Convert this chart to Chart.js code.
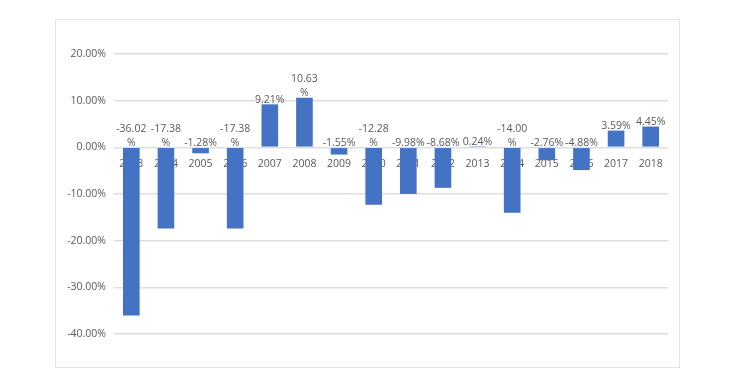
<!DOCTYPE html>
<html>
<head>
<meta charset="utf-8">
<script src="https://cdn.jsdelivr.net/npm/chart.js@4"></script>
<style>
    html, body { margin: 0; padding: 0; background: #fff; }
    body { width: 732px; height: 389px; position: relative; overflow: hidden; }
    #frame {
        position: absolute; left: 55px; top: 19px;
        width: 623px; height: 347px;
        border: 1px solid #e3e3e3;
    }
</style>
</head>
<body>
<div id="frame"><canvas id="chart"></canvas></div>
<script>
// Yearly returns, in percent
const years = ['2003', '2004', '2005', '2006', '2007', '2008', '2009', '2010',
               '2011', '2012', '2013', '2014', '2015', '2016', '2017', '2018'];
const returns = [-36.02, -17.38, -1.28, -17.38, 9.21, 10.63, -1.55, -12.28,
                 -9.98, -8.68, 0.24, -14.00, -2.76, -4.88, 3.59, 4.45];

const yMin = -40;
const yMax = 20;
const yStep = 10;

const textColor = '#595959';
const gridColor = '#dedede';
const barColor = '#4472c4';
const fontFamily = '"Open Sans", "DejaVu Sans", sans-serif';

// Value labels: above the bar for gains, above the zero line for losses.
// Long labels wrap before the % sign like the original.
const valueLabels = {
    id: 'valueLabels',
    afterDatasetsDraw(chart) {
        const ctx = chart.ctx;
        const meta = chart.getDatasetMeta(0);
        const zeroY = chart.scales.y.getPixelForValue(0);
        ctx.save();
        ctx.font = '10.5px ' + fontFamily;
        ctx.fillStyle = textColor;
        ctx.textAlign = 'center';
        ctx.textBaseline = 'bottom';
        meta.data.forEach((bar, i) => {
            const v = returns[i];
            const text = v.toFixed(2) + '%';
            const lines = Math.abs(v) >= 10 ? [v.toFixed(2), '%'] : [text];
            const baseY = (v > 0 ? Math.min(bar.y, zeroY) : zeroY) + 1;
            for (let k = lines.length - 1, row = 0; k >= 0; k--, row++) {
                ctx.fillText(lines[k], bar.x, baseY - row * 14);
            }
        });
        ctx.restore();
    }
};

new Chart(document.getElementById('chart'), {
    type: 'bar',
    data: {
        labels: years,
        datasets: [{
            data: returns,
            backgroundColor: barColor,
            borderWidth: 0,
            barPercentage: 0.48,
            categoryPercentage: 1
        }]
    },
    options: {
        responsive: true,
        maintainAspectRatio: false,
        animation: false,
        layout: { padding: { top: 34, right: 11, bottom: 33, left: 0 } },
        plugins: {
            legend: { display: false },
            tooltip: { enabled: false }
        },
        scales: {
            x: {
                position: { y: 0 },
                grid: { display: false, drawTicks: false },
                border: { display: false },
                ticks: {
                    color: textColor,
                    font: { family: fontFamily, size: 10.5 },
                    padding: 10,
                    maxRotation: 0,
                    autoSkip: false
                },
                afterFit(scale) { scale.height = 0; }
            },
            y: {
                min: yMin,
                max: yMax,
                grid: { color: gridColor, lineWidth: 1.5, drawTicks: false },
                border: { display: false },
                ticks: {
                    stepSize: yStep,
                    color: textColor,
                    font: { family: fontFamily, size: 10.5 },
                    padding: 8,
                    callback: v => v.toFixed(2) + '%'
                },
                afterFit(scale) { scale.width = 58; }
            }
        }
    },
    plugins: [valueLabels]
});
</script>
</body>
</html>
